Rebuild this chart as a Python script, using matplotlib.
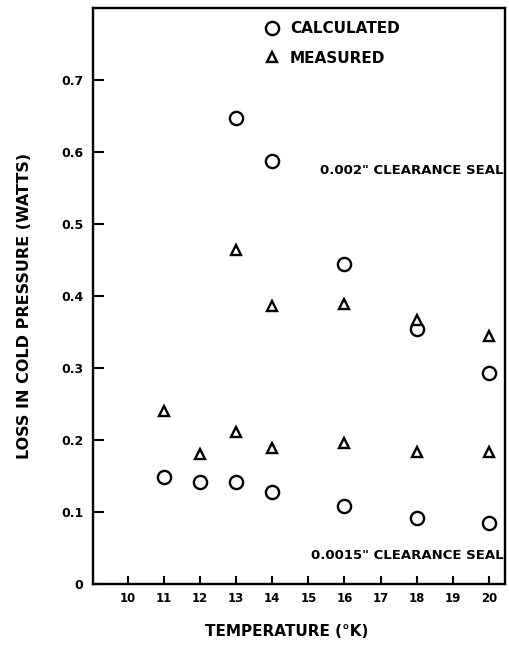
import matplotlib
matplotlib.use("Agg")
from matplotlib import pyplot as plt

# calculated losses (circles)
calc_hi_temp = [13, 14, 16, 18, 20]
calc_hi_loss = [0.647, 0.587, 0.444, 0.354, 0.293]
calc_lo_temp = [11, 12, 13, 14, 16, 18, 20]
calc_lo_loss = [0.149, 0.142, 0.141, 0.128, 0.108, 0.092, 0.085]

# measured losses (triangles)
meas_hi_temp = [11, 13, 14, 16, 18, 20]
meas_hi_loss = [0.240, 0.464, 0.386, 0.389, 0.366, 0.344]
meas_lo_temp = [12, 13, 14, 16, 18, 20]
meas_lo_loss = [0.181, 0.211, 0.189, 0.196, 0.183, 0.183]

x_ticks = list(range(10, 21))
y_ticks = [0, 0.1, 0.2, 0.3, 0.4, 0.5, 0.6, 0.7]
y_tick_labels = ["0", "0.1", "0.2", "0.3", "0.4", "0.5", "0.6", "0.7"]

plt.rcParams['font.family'] = ['DejaVu Sans']
plt.rcParams['font.weight'] = 'bold'

fig = plt.figure(figsize=(5.09, 6.48), dpi=100)
ax = fig.add_axes([93 / 509, 1 - 584 / 648, (505 - 93) / 509, (584 - 8) / 648])

circ = dict(marker='o', linestyle='none', markersize=9.5, markerfacecolor='white',
            markeredgecolor='black', markeredgewidth=1.7)
tri = dict(marker='^', linestyle='none', markersize=7, markerfacecolor='white',
           markeredgecolor='black', markeredgewidth=1.7)

ax.plot(calc_hi_temp, calc_hi_loss, label='CALCULATED', **circ)
ax.plot(calc_lo_temp, calc_lo_loss, **circ)
ax.plot(meas_hi_temp, meas_hi_loss, label='MEASURED', **tri)
ax.plot(meas_lo_temp, meas_lo_loss, **tri)

ax.set_xlim(9.03, 20.45)
ax.set_ylim(0, 0.8)
ax.set_xticks(x_ticks)
ax.set_yticks(y_ticks)
ax.set_yticklabels(y_tick_labels)
ax.tick_params(axis='both', direction='in', width=1.5)
ax.tick_params(axis='x', length=6, pad=6, labelsize=8.5)
ax.tick_params(axis='y', length=8, pad=7, labelsize=9)
for s in ax.spines.values():
    s.set_linewidth(1.7)

ax.text(20.4, 0.574, '0.002" CLEARANCE SEAL', ha='right', va='center', fontsize=9.5)
ax.text(20.4, 0.039, '0.0015" CLEARANCE SEAL', ha='right', va='center', fontsize=9.5)

# legend: marker column sits over the 14 K points
ax.legend(loc='upper left', bbox_to_anchor=(0.38, 1.0), frameon=False, fontsize=11,
          handletextpad=0.6, labelspacing=0.95, handlelength=1.2, borderpad=0.35)

ax.set_xlabel('TEMPERATURE (°K)', fontsize=11, fontweight='bold')
ax.set_ylabel('LOSS IN COLD PRESSURE (WATTS)', fontsize=11.5, fontweight='bold')
ax.xaxis.set_label_coords(0.47, -0.07)
ax.yaxis.set_label_coords(-0.148, 0.483)

plt.savefig('out.png', dpi=100)
